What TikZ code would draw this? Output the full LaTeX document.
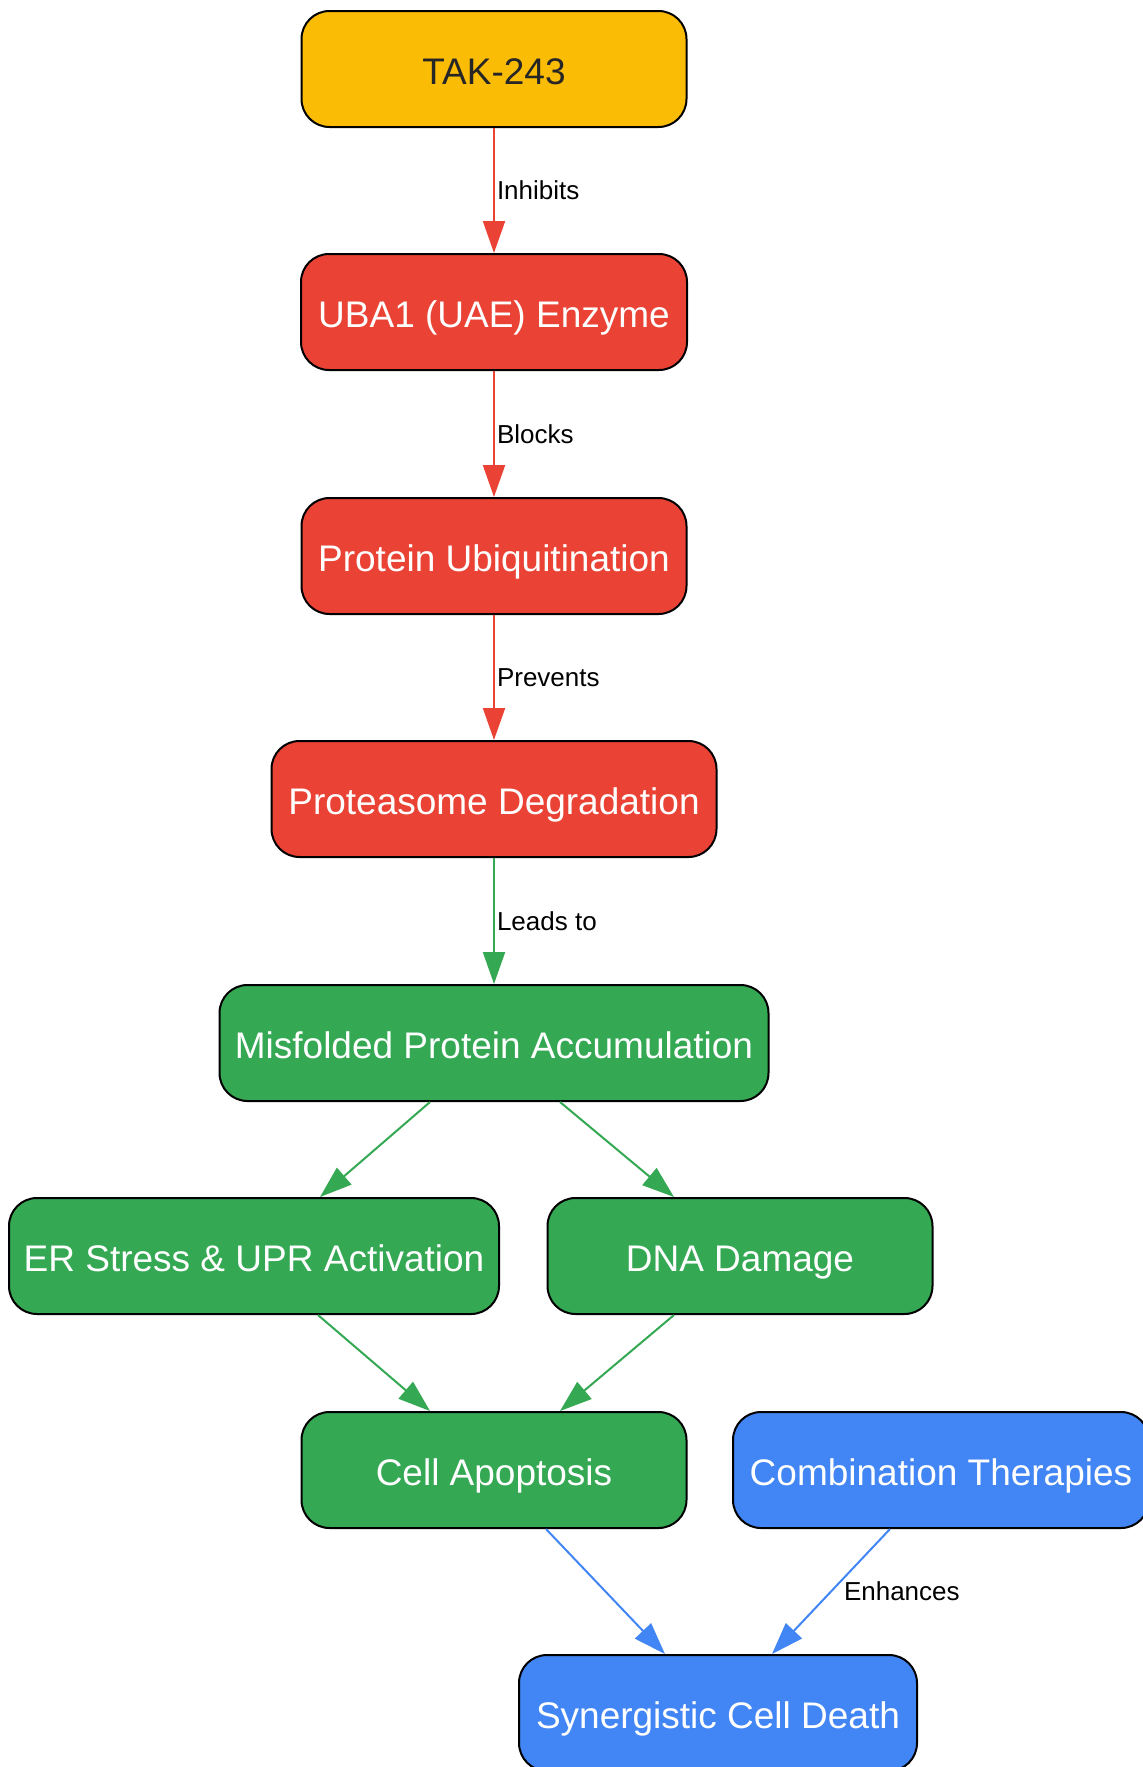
\documentclass[tikz,border=0pt]{standalone}
\usepackage{fontspec}
\setmainfont{Liberation Sans}
\usetikzlibrary{arrows.meta, positioning}
\definecolor{gyellow}{HTML}{FBBC05}
\definecolor{gred}{HTML}{EA4335}
\definecolor{ggreen}{HTML}{34A853}
\definecolor{gblue}{HTML}{4285F4}
\tikzset{
  box/.style={draw=black, line width=1pt, rounded corners=14pt, minimum height=58pt,
    inner sep=0pt, text=white, font=\fontsize{18.5}{22}\selectfont,
    text height=19.4pt, text depth=3.5pt},
  link/.style={line width=1pt, -{Triangle[length=16pt,width=11pt]}},
  lbl/.style={font=\fontsize{13}{15}\selectfont, text=black, inner sep=1pt, anchor=west}
}

\begin{document}
\begin{tikzpicture}[x=0.5pt, y=-0.5pt]
\useasboundingbox (0,0) rectangle (1143,1767);
%% drug and its target
  \node[box, fill=gyellow, text=black!85, minimum width=192.5pt] (tak) at (494,69) {TAK-243};
  \node[box, fill=gred, minimum width=193pt] (uba) at (494,312) {UBA1 (UAE) Enzyme};
  \node[box, fill=gred, minimum width=192.5pt] (ubq) at (494,556) {Protein Ubiquitination};
  \node[box, fill=gred, minimum width=222.5pt] (prot) at (494,799) {Proteasome Degradation};
%% cell stress
  \node[box, fill=ggreen, minimum width=274.5pt] (mis) at (494,1043) {Misfolded Protein Accumulation};
  \node[box, fill=ggreen, minimum width=245pt] (er) at (254,1256) {ER Stress \& UPR Activation};
  \node[box, fill=ggreen, minimum width=192.5pt] (dna) at (740,1256) {DNA Damage};
  \node[box, fill=ggreen, minimum width=192.5pt] (apop) at (494,1470) {Cell Apoptosis};
%% combination
  \node[box, fill=gblue, minimum width=208pt] (comb) at (941,1470) {Combination Therapies};
  \node[box, fill=gblue, minimum width=199pt] (syn) at (718,1713) {Synergistic Cell Death};
%% edges
  \draw[link, gred] (tak) -- node[lbl] {Inhibits} (uba);
  \draw[link, gred] (uba) -- node[lbl] {Blocks} (ubq);
  \draw[link, gred] (ubq) -- node[lbl] {Prevents} (prot);
  \draw[link, ggreen] (prot) -- node[lbl] {Leads to} (mis);
  \draw[link, ggreen] ([xshift=-32pt]mis.south) -- ([xshift=33pt]er.north);
  \draw[link, ggreen] ([xshift=33pt]mis.south) -- ([xshift=-33pt]dna.north);
  \draw[link, ggreen] ([xshift=32pt]er.south) -- ([xshift=-32pt]apop.north);
  \draw[link, ggreen] ([xshift=-33pt]dna.south) -- ([xshift=33pt]apop.north);
  \draw[link, gblue] ([xshift=26pt]apop.south) -- ([xshift=-26.5pt]syn.north);
  \draw[link, gblue] ([xshift=-25.5pt]comb.south) -- node[lbl, xshift=5pt] {Enhances} ([xshift=27pt]syn.north);
\end{tikzpicture}
\end{document}
